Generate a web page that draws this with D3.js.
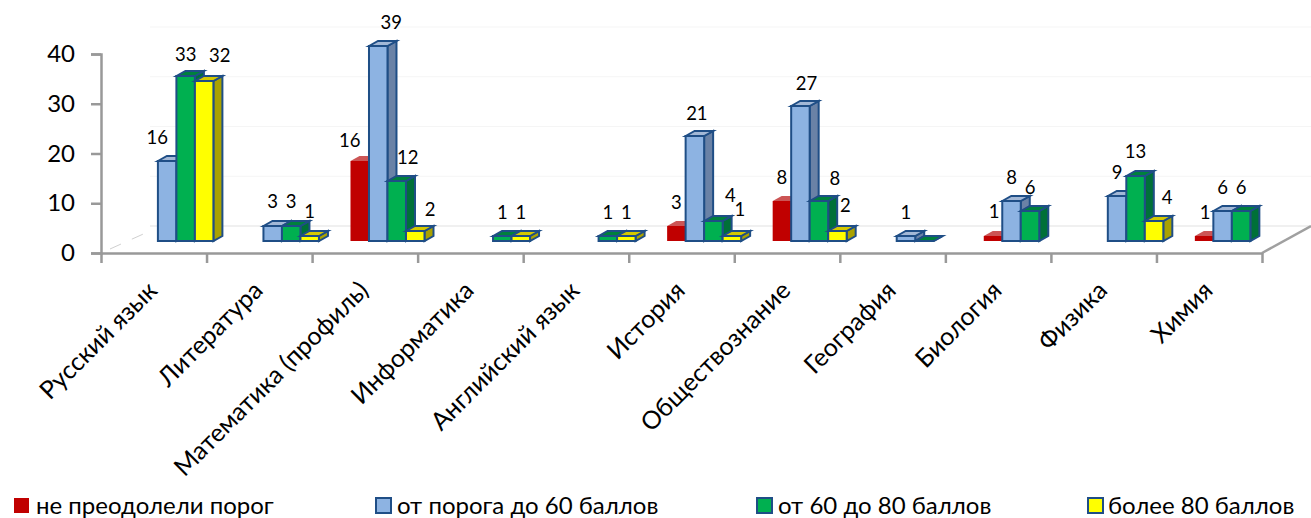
<!DOCTYPE html>
<html><head><meta charset="utf-8">
<script src="https://cdn.jsdelivr.net/npm/d3@7"></script>
<style>html,body{margin:0;padding:0;background:#fff}svg{display:block}text{font-family:Lato,"Open Sans","Noto Sans",sans-serif;fill:#000}</style>
</head><body><svg id="c" width="1311" height="518"></svg>
<script>
const categories=["Русский язык","Литература","Математика (профиль)","Информатика","Английский язык","История","Обществознание","География","Биология","Физика","Химия"];
const seriesNames=["не преодолели порог","от порога до 60 баллов","от 60 до 80 баллов","более 80 баллов"];
const belowThreshold=[null,null,16,null,null,3,8,null,1,null,1];
const upTo60=[16,3,39,null,null,21,27,1,8,9,6];
const from60to80=[33,3,12,1,1,4,8,0,6,13,6];
const above80=[32,1,2,1,1,1,2,null,null,4,null];
const yTicks=[0,10,20,30,40];
const showLabel=v=>v!==null&&v>0;
// label nudges: [category, series, dx, dy]
const labelNudges=[[0,1,-10,-24],[0,2,0,-22],[0,3,15.5,-26],[1,1,0,-25],[1,2,0,-25],[1,3,0,-25],
[2,0,-10,-21],[2,1,13,-24],[2,2,11,-24],[2,3,15,-22],[5,1,2,-23],[5,2,17,-26],[5,3,8,-27],
[6,1,6,-23],[6,2,16,-23],[6,3,8,-26],[8,0,1,-25],[9,2,0,-25],[9,3,13,-24],[10,0,1,-24]];
const nudge=(c,s)=>{const n=labelNudges.find(d=>d[0]===c&&d[1]===s);return n?[n[2],n[3]]:[0,-24];};

const values=[belowThreshold,upTo60,from60to80,above80];
const palette=[
 {front:"#c00000",top:"#cc5555",side:"#a03030",stroke:"none"},
 {front:"#8db3e2",top:"#a3b8d6",side:"#6a82a6",stroke:"#1f4e86"},
 {front:"#00b050",top:"#00803c",side:"#007038",stroke:"#1f4e86"},
 {front:"#ffff00",top:"#d4c800",side:"#aaa200",stroke:"#1f4e86"}];
const svg=d3.select("#c");
const barW=18.5,depthX=9,depthY=5,axisLeft=101,axisRight=1262,axisY=253;
const step=(axisRight-axisLeft)/categories.length;
const xCat=d3.scaleBand().domain(d3.range(categories.length)).range([139.4,139.4+step*categories.length]).paddingInner(0).paddingOuter(0);
const xSer=d3.scaleLinear().domain([0,4]).range([0,barW*4]);
const yBar=d3.scaleLinear().domain([0,40]).range([241,41]);
const yAxis=d3.scaleLinear().domain([0,40]).range([axisY,54]);
const yWall=d3.scaleLinear().domain([0,40]).range([226,27]);
const xAxis=d3.scaleLinear().domain([0,categories.length]).range([axisLeft,axisRight]);

// back wall gridlines
const g=svg.append("g");
yTicks.slice(1).forEach(v=>{
 g.append("line").attr("x1",150).attr("x2",1311).attr("y1",yWall(v)).attr("y2",yWall(v)).attr("stroke","#f5f5f5").attr("stroke-width",1);
});
g.append("line").attr("x1",110).attr("y1",249).attr("x2",150).attr("y2",231).attr("stroke","#d0d0d0").attr("stroke-width",1).attr("stroke-dasharray","12 12");
g.append("line").attr("x1",150).attr("y1",yWall(0)).attr("x2",1311).attr("y2",yWall(0)).attr("stroke","#e2e2e2").attr("stroke-width",1.2);
g.append("line").attr("x1",axisRight).attr("y1",axisY).attr("x2",1311).attr("y2",226).attr("stroke","#a0a0a0").attr("stroke-width",2.5);

// axes
const ax=svg.append("g").attr("transform",`translate(${axisLeft},0)`).call(d3.axisLeft(yAxis).tickValues(yTicks).tickSize(10).tickPadding(16).tickFormat(d3.format("d")));
ax.selectAll("path,line").attr("stroke","#999").attr("stroke-width",2.5);
ax.selectAll("text").style("font-size","24px").attr("fill","#000");
const bx=svg.append("g").attr("transform",`translate(0,${axisY})`).call(d3.axisBottom(xAxis).tickValues(d3.range(categories.length+1)).tickSize(10).tickSizeOuter(0).tickFormat(""));
bx.selectAll("path,line").attr("stroke","#999").attr("stroke-width",2.5);

// bars
const bars=svg.append("g");
categories.forEach((c,i)=>{
 values.forEach((ser,s)=>{
  const v=ser[i]; if(v===null) return;
  const p=palette[s],x0=xCat(i)+xSer(s),x1=x0+barW,yT=yBar(v),yB=yBar(0);
  const sw=p.stroke==="none"?0:2,st=p.stroke;
  bars.append("path").attr("d",d3.line()([[x1,yT],[x1+depthX,yT-depthY],[x1+depthX,yB-depthY],[x1,yB]])+"Z").attr("fill",p.side).attr("stroke",st).attr("stroke-width",sw);
  bars.append("path").attr("d",d3.line()([[x0,yT],[x0+depthX,yT-depthY],[x1+depthX,yT-depthY],[x1,yT]])+"Z").attr("fill",p.top).attr("stroke",st).attr("stroke-width",sw);
  if(v>0) bars.append("rect").attr("x",x0).attr("y",yT).attr("width",barW).attr("height",yB-yT).attr("fill",p.front).attr("stroke",st).attr("stroke-width",sw);
 });
});
// data labels
categories.forEach((c,i)=>{
 values.forEach((ser,s)=>{
  const v=ser[i]; if(!showLabel(v)) return;
  const [dx,dy]=nudge(i,s);
  svg.append("text").attr("x",xCat(i)+xSer(s)+barW/2+dx).attr("y",yBar(v)+dy+6.5).attr("text-anchor","middle").style("font-size","18.5px").text(v);
 });
});
// category labels
categories.forEach((c,i)=>{
 const x=xAxis(i+0.5)+5,y=292;
 svg.append("text").attr("transform",`translate(${x},${y}) rotate(-45)`).attr("text-anchor","end").style("font-size","25px").text(c);
});
// legend
const legendX=d3.scaleOrdinal().domain(seriesNames).range([13,375,756,1087]);
const legendTextX=d3.scaleOrdinal().domain(seriesNames).range([36,397,778,1108]);
seriesNames.forEach((n,s)=>{
 const p=palette[s];
 svg.append("rect").attr("x",legendX(n)+1).attr("y",498).attr("width",15).attr("height",15).attr("fill",p.front).attr("stroke",p.stroke==="none"?"none":"#1f4e86").attr("stroke-width",2);
 svg.append("text").attr("x",legendTextX(n)).attr("y",514).style("font-size","24px").text(n);
});
</script></body></html>
